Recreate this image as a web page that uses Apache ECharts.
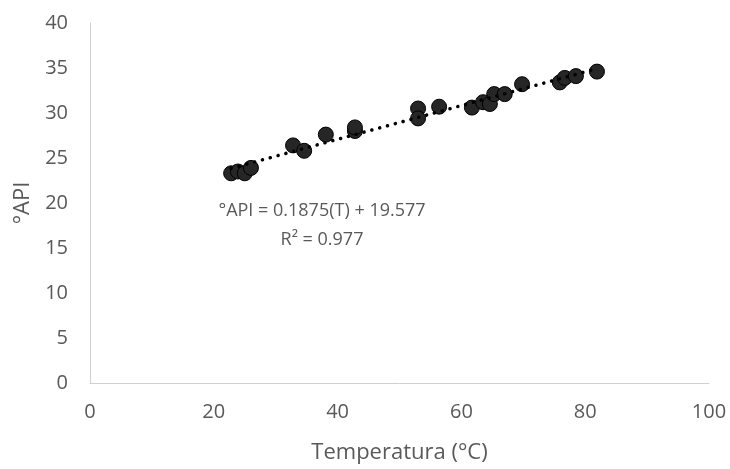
<!DOCTYPE html>
<html>
<head>
<meta charset="utf-8">
<script src="https://cdn.jsdelivr.net/npm/echarts@6/dist/echarts.min.js"></script>
<style>
  html, body { margin: 0; padding: 0; background: #fff; }
  #chart { width: 730px; height: 469px; }
</style>
</head>
<body>
<div id="chart"></div>
<script>
// temperatura (°C) de cada medición
const temps = [22.8, 23.9, 25.0, 26.0, 32.8, 34.6, 38.1, 42.8, 42.8, 53.0, 53.0, 56.4,
  61.7, 63.5, 64.6, 65.3, 67.0, 69.8, 75.9, 76.7, 78.5, 81.9];
// °API medido
const api = [23.3, 23.5, 23.3, 23.9, 26.4, 25.8, 27.6, 28.0, 28.4, 30.5, 29.4, 30.7,
  30.6, 31.2, 31.0, 32.1, 32.1, 33.2, 33.4, 33.9, 34.1, 34.6];
// extremos de la línea de tendencia
const trendX = [22.8, 82.0];
const trendY = [23.85, 34.95];
const xTicks = [0, 20, 40, 60, 80, 100];
const yTicks = [0, 5, 10, 15, 20, 25, 30, 35, 40];
const eqLabel = "°API = 0.1875(T) + 19.577\nR² = 0.977";

const font = "Open Sans";
const grey = "#595959";

var myChart = echarts.init(document.getElementById("chart"));

let options = {
  animation: false,
  textStyle: { fontFamily: font },
  grid: { left: 90, right: 21, top: 23, bottom: 85 },
  xAxis: {
    type: "value",
    min: xTicks[0],
    max: xTicks[xTicks.length - 1],
    interval: xTicks[1] - xTicks[0],
    name: "Temperatura (°C)",
    nameLocation: "middle",
    nameGap: 59,
    nameTextStyle: { color: grey, fontSize: 22, fontFamily: font },
    axisLine: { lineStyle: { color: "#d0d0d0", width: 1 } },
    axisTick: { show: false },
    splitLine: { show: false },
    axisLabel: { color: grey, fontSize: 20, margin: 19, fontFamily: font },
  },
  yAxis: {
    type: "value",
    min: yTicks[0],
    max: yTicks[yTicks.length - 1],
    interval: yTicks[1] - yTicks[0],
    name: "°API",
    nameLocation: "middle",
    nameGap: 55,
    nameTextStyle: { color: grey, fontSize: 22, fontFamily: font },
    axisLine: { show: true, lineStyle: { color: "#d0d0d0", width: 1 } },
    axisTick: { show: false },
    splitLine: { show: false },
    axisLabel: { color: grey, fontSize: 20, margin: 22, fontFamily: font },
  },
  series: [
    {
      // línea de tendencia punteada
      type: "line",
      data: trendX.map((x, i) => [x, trendY[i]]),
      symbol: "none",
      z: 3,
      lineStyle: { color: "#000", width: 3.5, type: [0.1, 8], cap: "round" },
    },
    {
      type: "scatter",
      data: temps.map((t, i) => [t, api[i]]),
      symbol: "circle",
      symbolSize: 15,
      z: 2,
      itemStyle: { color: "#262626", opacity: 1, borderColor: "#000", borderWidth: 1 },
    },
  ],
  graphic: [
    {
      type: "text",
      x: 322,
      y: 196,
      style: {
        text: eqLabel,
        fill: grey,
        font: "18px " + font,
        align: "center",
        lineHeight: 29,
      },
    },
  ],
};
myChart.setOption(options);
window.addEventListener("resize", function() {
  myChart.resize();
});
</script>
</body>
</html>
